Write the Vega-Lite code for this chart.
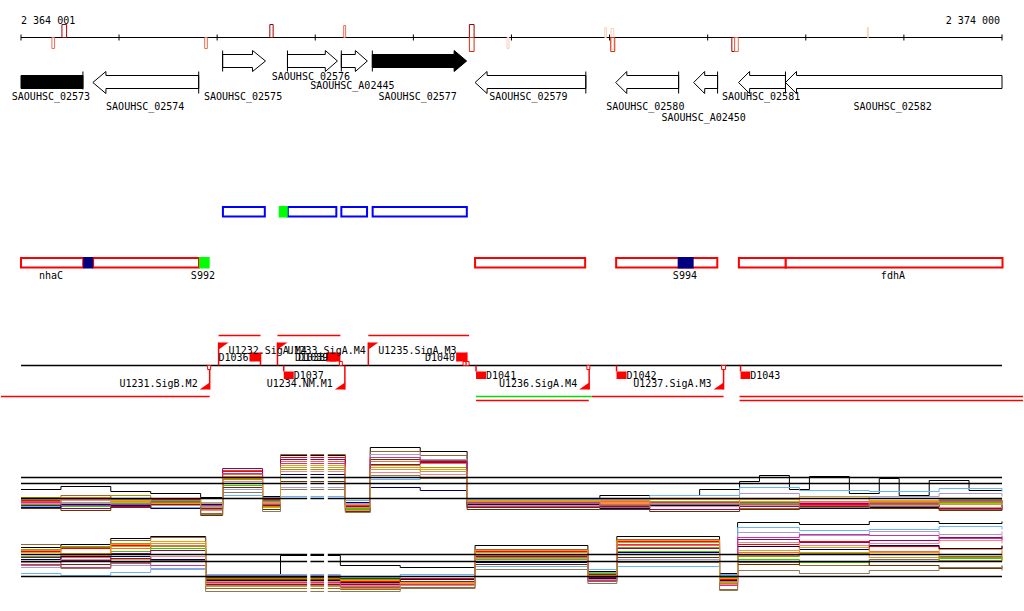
{
"$schema":"https://vega.github.io/schema/vega-lite/v6.json",
"width":1024,"height":611,
"autosize":{"type":"fit","contains":"padding"},
"padding":0,
"background":"#ffffff",
"config":{"view":{"stroke":null},"text":{"font":"DejaVu Sans Mono","fontSize":10,"color":"#000000"}},
"encoding":{
"x":{"field":"x","type":"quantitative","scale":{"domain":[2363797,2374214],"nice":false,"zero":false},"axis":null},
"y":{"field":"y","type":"quantitative","scale":{"domain":[611.5,0.5],"nice":false,"zero":false},"axis":null}
},
"datasets":{
"axis":[
{"x":2364001,"x2":2374000,"y":38,"y2":38},
{"x":2364001,"x2":2364001,"y":35,"y2":41},
{"x":2365000,"x2":2365000,"y":35,"y2":41},
{"x":2366000,"x2":2366000,"y":35,"y2":41},
{"x":2367000,"x2":2367000,"y":35,"y2":41},
{"x":2368000,"x2":2368000,"y":35,"y2":41},
{"x":2369000,"x2":2369000,"y":35,"y2":41},
{"x":2370000,"x2":2370000,"y":35,"y2":41},
{"x":2371000,"x2":2371000,"y":35,"y2":41},
{"x":2372000,"x2":2372000,"y":35,"y2":41},
{"x":2373000,"x2":2373000,"y":35,"y2":41},
{"x":2374000,"x2":2374000,"y":35,"y2":41}
],
"axislab":[
{"t":"2 364 001","x":2364001,"y":24,"side":"L"},
{"t":"2 374 000","x":2374000,"y":24,"side":"R"}
],
"hits":[
{"x":2364316,"x2":2364343,"y":38,"y2":49,"lvl":"mid"},
{"x":2364418,"x2":2364466,"y":25,"y2":38,"lvl":"high"},
{"x":2365873,"x2":2365900,"y":38,"y2":49,"lvl":"mid"},
{"x":2366537,"x2":2366571,"y":25,"y2":38,"lvl":"high"},
{"x":2367290,"x2":2367310,"y":26,"y2":38,"lvl":"mid"},
{"x":2368571,"x2":2368619,"y":25,"y2":38,"lvl":"high"},
{"x":2368571,"x2":2368619,"y":38,"y2":52,"lvl":"high2"},
{"x":2368955,"x2":2368975,"y":38,"y2":49,"lvl":"low"},
{"x":2369951,"x2":2369968,"y":28,"y2":38,"lvl":"low"},
{"x":2370016,"x2":2370043,"y":29,"y2":50,"lvl":"low"},
{"x":2370012,"x2":2370053,"y":38,"y2":52,"lvl":"high2"},
{"x":2371246,"x2":2371274,"y":38,"y2":52,"lvl":"high"},
{"x":2371274,"x2":2371312,"y":38,"y2":52,"lvl":"mid"},
{"x":2372627,"x2":2372637,"y":28,"y2":38,"lvl":"low"}
],
"arrows":[
{"g":"SAOUHSC_02573","x":2364001,"y":76,"y2":89},
{"g":"SAOUHSC_02573","x":2364632,"y":76,"y2":89},
{"g":"SAOUHSC_02574","x":2364733,"y":83,"y2":83},
{"g":"SAOUHSC_02574","x":2364866,"y":72,"y2":94},
{"g":"SAOUHSC_02574","x":2364867,"y":76,"y2":89},
{"g":"SAOUHSC_02574","x":2365812,"y":76,"y2":89},
{"g":"SAOUHSC_02575","x":2366056,"y":55,"y2":68},
{"g":"SAOUHSC_02575","x":2366360,"y":55,"y2":68},
{"g":"SAOUHSC_02575","x":2366361,"y":51,"y2":72},
{"g":"SAOUHSC_02575","x":2366493,"y":61.5,"y2":61.5},
{"g":"SAOUHSC_02576","x":2366717,"y":55,"y2":68},
{"g":"SAOUHSC_02576","x":2367102,"y":55,"y2":68},
{"g":"SAOUHSC_02576","x":2367103,"y":51,"y2":72},
{"g":"SAOUHSC_02576","x":2367226,"y":61.5,"y2":61.5},
{"g":"SAOUHSC_A02445","x":2367266,"y":55,"y2":68},
{"g":"SAOUHSC_A02445","x":2367408,"y":55,"y2":68},
{"g":"SAOUHSC_A02445","x":2367409,"y":51,"y2":72},
{"g":"SAOUHSC_A02445","x":2367531,"y":61.5,"y2":61.5},
{"g":"SAOUHSC_02577","x":2367582,"y":55,"y2":68},
{"g":"SAOUHSC_02577","x":2368415,"y":55,"y2":68},
{"g":"SAOUHSC_02577","x":2368416,"y":51,"y2":72},
{"g":"SAOUHSC_02577","x":2368543,"y":61.5,"y2":61.5},
{"g":"SAOUHSC_02579","x":2368629,"y":83,"y2":83},
{"g":"SAOUHSC_02579","x":2368751,"y":72,"y2":94},
{"g":"SAOUHSC_02579","x":2368752,"y":76,"y2":89},
{"g":"SAOUHSC_02579","x":2369758,"y":76,"y2":89},
{"g":"SAOUHSC_02580","x":2370063,"y":83,"y2":83},
{"g":"SAOUHSC_02580","x":2370175,"y":72,"y2":94},
{"g":"SAOUHSC_02580","x":2370176,"y":76,"y2":89},
{"g":"SAOUHSC_02580","x":2370704,"y":76,"y2":89},
{"g":"SAOUHSC_A02450","x":2370857,"y":83,"y2":83},
{"g":"SAOUHSC_A02450","x":2370969,"y":72,"y2":94},
{"g":"SAOUHSC_A02450","x":2370970,"y":76,"y2":89},
{"g":"SAOUHSC_A02450","x":2371101,"y":76,"y2":89},
{"g":"SAOUHSC_02581","x":2371315,"y":83,"y2":83},
{"g":"SAOUHSC_02581","x":2371427,"y":72,"y2":94},
{"g":"SAOUHSC_02581","x":2371428,"y":76,"y2":89},
{"g":"SAOUHSC_02581","x":2371793,"y":76,"y2":89},
{"g":"SAOUHSC_02582","x":2371793,"y":83,"y2":83},
{"g":"SAOUHSC_02582","x":2371905,"y":72,"y2":94},
{"g":"SAOUHSC_02582","x":2371906,"y":76,"y2":89},
{"g":"SAOUHSC_02582","x":2374000,"y":76,"y2":89}
],
"gbar":[
{"x":2366056,"x2":2366056,"y":51,"y2":72},
{"x":2366717,"x2":2366717,"y":51,"y2":72},
{"x":2367266,"x2":2367266,"y":51,"y2":72},
{"x":2367582,"x2":2367582,"y":51,"y2":72},
{"x":2364632,"x2":2364632,"y":72,"y2":90},
{"x":2365812,"x2":2365812,"y":72,"y2":94},
{"x":2369758,"x2":2369758,"y":72,"y2":94},
{"x":2370704,"x2":2370704,"y":72,"y2":94},
{"x":2371101,"x2":2371101,"y":72,"y2":94},
{"x":2371793,"x2":2371793,"y":72,"y2":94}
],
"glab":[
{"t":"SAOUHSC_02573","x":2364306,"y":100.5},
{"t":"SAOUHSC_02574","x":2365267,"y":110},
{"t":"SAOUHSC_02575","x":2366264,"y":100.5},
{"t":"SAOUHSC_02576","x":2366956,"y":80},
{"t":"SAOUHSC_A02445","x":2367378,"y":89},
{"t":"SAOUHSC_02577","x":2368044,"y":100.5},
{"t":"SAOUHSC_02579","x":2369173,"y":100.5},
{"t":"SAOUHSC_02580","x":2370364,"y":110},
{"t":"SAOUHSC_A02450","x":2370959,"y":121},
{"t":"SAOUHSC_02581","x":2371544,"y":100.5},
{"t":"SAOUHSC_02582","x":2372886,"y":110}
],
"boxes":[
{"x":2366059,"x2":2366486,"y":207.5,"y2":217,"k":"blue"},
{"x":2366720,"x2":2367215,"y":207.5,"y2":217,"k":"blue"},
{"x":2367266,"x2":2367528,"y":207.5,"y2":217,"k":"blue"},
{"x":2367585,"x2":2368545,"y":207.5,"y2":217,"k":"blue"},
{"x":2366628,"x2":2366720,"y":206.5,"y2":218,"k":"hi"},
{"x":2364001,"x2":2364635,"y":258.5,"y2":268,"k":"red"},
{"x":2364736,"x2":2365815,"y":258.5,"y2":268,"k":"red"},
{"x":2368629,"x2":2369751,"y":258.5,"y2":268,"k":"red"},
{"x":2370067,"x2":2371098,"y":258.5,"y2":268,"k":"red"},
{"x":2371318,"x2":2371796,"y":258.5,"y2":268,"k":"red"},
{"x":2371796,"x2":2374005,"y":258.5,"y2":268,"k":"red"},
{"x":2364635,"x2":2364736,"y":257.5,"y2":269,"k":"lo"},
{"x":2370694,"x2":2370857,"y":257.5,"y2":269,"k":"lo"},
{"x":2365815,"x2":2365924,"y":257.5,"y2":269,"k":"hi"}
],
"blab":[
{"t":"nhaC","x":2364306,"y":279},
{"t":"S992","x":2365855,"y":279},
{"t":"S994","x":2370768,"y":279},
{"t":"fdhA","x":2372888,"y":279}
],
"tuseg":[
{"x":2364001,"x2":2374000,"y":366,"y2":366,"k":"track"},
{"x":2366015,"x2":2366442,"y":336,"y2":336,"k":"red"},
{"x":2366615,"x2":2367256,"y":336,"y2":336,"k":"red"},
{"x":2367541,"x2":2368568,"y":336,"y2":336,"k":"red"},
{"x":2363797,"x2":2365924,"y":397,"y2":397,"k":"red"},
{"x":2368639,"x2":2369819,"y":397,"y2":397,"k":"green"},
{"x":2369819,"x2":2371162,"y":397,"y2":397,"k":"red"},
{"x":2371325,"x2":2374214,"y":397,"y2":397,"k":"red"},
{"x":2368639,"x2":2369788,"y":401,"y2":401,"k":"red"},
{"x":2371325,"x2":2374214,"y":401,"y2":401,"k":"red"},
{"x":2366015,"x2":2366015,"y":343,"y2":366,"k":"red"},
{"x":2366615,"x2":2366615,"y":343,"y2":366,"k":"red"},
{"x":2367541,"x2":2367541,"y":343,"y2":366,"k":"red"},
{"x":2365924,"x2":2365924,"y":366,"y2":390,"k":"red"},
{"x":2367302,"x2":2367302,"y":366,"y2":390,"k":"red"},
{"x":2369792,"x2":2369792,"y":366,"y2":390,"k":"red"},
{"x":2371162,"x2":2371162,"y":366,"y2":390,"k":"red"},
{"x":2366442,"x2":2366442,"y":353,"y2":366,"k":"red"},
{"x":2367249,"x2":2367249,"y":353,"y2":366,"k":"red"},
{"x":2368545,"x2":2368545,"y":353,"y2":366,"k":"red"},
{"x":2366679,"x2":2366679,"y":366,"y2":372,"k":"red"},
{"x":2368639,"x2":2368639,"y":366,"y2":372,"k":"red"},
{"x":2370071,"x2":2370071,"y":366,"y2":372,"k":"red"},
{"x":2371335,"x2":2371335,"y":366,"y2":372,"k":"red"}
],
"term":[
{"x":2365903,"x2":2365934,"y":366,"y2":370},
{"x":2367246,"x2":2367276,"y":362,"y2":366},
{"x":2368507,"x2":2368538,"y":362,"y2":366},
{"x":2368538,"x2":2368568,"y":362,"y2":366},
{"x":2369769,"x2":2369799,"y":366,"y2":370},
{"x":2371142,"x2":2371182,"y":366,"y2":370}
],
"flags":[
{"t":"U1232.SigA.M4","x":2366015,"y":366,"ly":354,"st":"+"},
{"t":"U1233.SigA.M4","x":2366615,"y":366,"ly":354,"st":"+"},
{"t":"U1235.SigA.M3","x":2367541,"y":366,"ly":354,"st":"+"},
{"t":"U1231.SigB.M2","x":2365924,"y":366,"ly":387,"st":"-"},
{"t":"U1234.NM.M1","x":2367302,"y":366,"ly":387,"st":"-"},
{"t":"U1236.SigA.M4","x":2369792,"y":366,"ly":387,"st":"-"},
{"t":"U1237.SigA.M3","x":2371162,"y":366,"ly":387,"st":"-"}
],
"dbox":[
{"d":"D1036","x":2366330,"x2":2366442,"y":353,"y2":362,"ly":361,"st":"+"},
{"d":"D1038","x":2367111,"x2":2367215,"y":353,"y2":362,"ly":361,"st":"+"},
{"d":"D1039","x":2367144,"x2":2367249,"y":353,"y2":362,"ly":361,"st":"+"},
{"d":"D1040","x":2368436,"x2":2368545,"y":353,"y2":362,"ly":361,"st":"+"},
{"d":"D1037","x":2366679,"x2":2366781,"y":372,"y2":379.5,"ly":379,"st":"-"},
{"d":"D1041","x":2368639,"x2":2368741,"y":372,"y2":379.5,"ly":379,"st":"-"},
{"d":"D1042","x":2370071,"x2":2370173,"y":372,"y2":379.5,"ly":379,"st":"-"},
{"d":"D1043","x":2371335,"x2":2371434,"y":372,"y2":379.5,"ly":379,"st":"-"}
],
"refs":[
{"x":2364001,"x2":2374000,"y":478,"y2":478},
{"x":2364001,"x2":2374000,"y":484,"y2":484},
{"x":2364001,"x2":2374000,"y":499,"y2":499},
{"x":2364001,"x2":2374000,"y":555,"y2":555},
{"x":2364001,"x2":2374000,"y":562,"y2":562},
{"x":2364001,"x2":2374000,"y":577,"y2":577}
],
"gaps":[
{"x":2366917,"x2":2366951,"y":440,"y2":520},
{"x":2367090,"x2":2367128,"y":440,"y2":520},
{"x":2366917,"x2":2366951,"y":520,"y2":600},
{"x":2367090,"x2":2367128,"y":520,"y2":600}
],
"expr":[
{"p":"u","s":"s01","x":2364001,"y":490},{"p":"u","s":"s01","x":2364916,"y":492},{"p":"u","s":"s01","x":2365832,"y":498},{"p":"u","s":"s01","x":2366056,"y":478},{"p":"u","s":"s01","x":2366463,"y":497},{"p":"u","s":"s01","x":2366646,"y":456},{"p":"u","s":"s01","x":2367307,"y":499},{"p":"u","s":"s01","x":2367561,"y":448},{"p":"u","s":"s01","x":2368070,"y":452},{"p":"u","s":"s01","x":2368548,"y":499},{"p":"u","s":"s01","x":2369901,"y":496},{"p":"u","s":"s01","x":2370918,"y":490},{"p":"u","s":"s01","x":2371325,"y":482},{"p":"u","s":"s01","x":2371528,"y":476},{"p":"u","s":"s01","x":2371833,"y":490},{"p":"u","s":"s01","x":2372037,"y":477},{"p":"u","s":"s01","x":2372444,"y":494},{"p":"u","s":"s01","x":2372749,"y":479},{"p":"u","s":"s01","x":2372952,"y":496},{"p":"u","s":"s01","x":2373258,"y":481},{"p":"u","s":"s01","x":2373664,"y":491},{"p":"u","s":"s01","x":2374000,"y":491},
{"p":"u","s":"s02","x":2364001,"y":501},{"p":"u","s":"s02","x":2364916,"y":503},{"p":"u","s":"s02","x":2365832,"y":505},{"p":"u","s":"s02","x":2366056,"y":472},{"p":"u","s":"s02","x":2366463,"y":500},{"p":"u","s":"s02","x":2366646,"y":458},{"p":"u","s":"s02","x":2367307,"y":505},{"p":"u","s":"s02","x":2367561,"y":458},{"p":"u","s":"s02","x":2368070,"y":460},{"p":"u","s":"s02","x":2368548,"y":503},{"p":"u","s":"s02","x":2369901,"y":504},{"p":"u","s":"s02","x":2371325,"y":503},{"p":"u","s":"s02","x":2372647,"y":502},{"p":"u","s":"s02","x":2374000,"y":502},
{"p":"u","s":"s03","x":2364001,"y":503},{"p":"u","s":"s03","x":2364916,"y":500},{"p":"u","s":"s03","x":2365832,"y":507},{"p":"u","s":"s03","x":2366056,"y":475},{"p":"u","s":"s03","x":2366463,"y":503},{"p":"u","s":"s03","x":2366646,"y":462},{"p":"u","s":"s03","x":2367307,"y":506},{"p":"u","s":"s03","x":2367561,"y":462},{"p":"u","s":"s03","x":2368070,"y":464},{"p":"u","s":"s03","x":2368548,"y":505},{"p":"u","s":"s03","x":2369901,"y":502},{"p":"u","s":"s03","x":2371325,"y":505},{"p":"u","s":"s03","x":2372647,"y":504},{"p":"u","s":"s03","x":2374000,"y":504},
{"p":"u","s":"s04","x":2364001,"y":499},{"p":"u","s":"s04","x":2364916,"y":502},{"p":"u","s":"s04","x":2365832,"y":514},{"p":"u","s":"s04","x":2366056,"y":471},{"p":"u","s":"s04","x":2366463,"y":505},{"p":"u","s":"s04","x":2366646,"y":455},{"p":"u","s":"s04","x":2367307,"y":508},{"p":"u","s":"s04","x":2367561,"y":452},{"p":"u","s":"s04","x":2368070,"y":456},{"p":"u","s":"s04","x":2368548,"y":507},{"p":"u","s":"s04","x":2369901,"y":506},{"p":"u","s":"s04","x":2371325,"y":509},{"p":"u","s":"s04","x":2372647,"y":507},{"p":"u","s":"s04","x":2374000,"y":507},
{"p":"u","s":"s05","x":2364001,"y":498},{"p":"u","s":"s05","x":2364916,"y":496},{"p":"u","s":"s05","x":2365832,"y":510},{"p":"u","s":"s05","x":2366056,"y":480},{"p":"u","s":"s05","x":2366463,"y":507},{"p":"u","s":"s05","x":2366646,"y":470},{"p":"u","s":"s05","x":2367307,"y":509},{"p":"u","s":"s05","x":2367561,"y":466},{"p":"u","s":"s05","x":2368070,"y":468},{"p":"u","s":"s05","x":2368548,"y":502},{"p":"u","s":"s05","x":2369901,"y":505},{"p":"u","s":"s05","x":2371325,"y":500},{"p":"u","s":"s05","x":2372647,"y":503},{"p":"u","s":"s05","x":2374000,"y":503},
{"p":"u","s":"s06","x":2364001,"y":505},{"p":"u","s":"s06","x":2364916,"y":504},{"p":"u","s":"s06","x":2365832,"y":506},{"p":"u","s":"s06","x":2366056,"y":486},{"p":"u","s":"s06","x":2366463,"y":502},{"p":"u","s":"s06","x":2366646,"y":478},{"p":"u","s":"s06","x":2367307,"y":510},{"p":"u","s":"s06","x":2367561,"y":470},{"p":"u","s":"s06","x":2368070,"y":472},{"p":"u","s":"s06","x":2368548,"y":506},{"p":"u","s":"s06","x":2369901,"y":508},{"p":"u","s":"s06","x":2371325,"y":504},{"p":"u","s":"s06","x":2372647,"y":505},{"p":"u","s":"s06","x":2374000,"y":505},
{"p":"u","s":"s07","x":2364001,"y":507},{"p":"u","s":"s07","x":2364916,"y":505},{"p":"u","s":"s07","x":2365832,"y":503},{"p":"u","s":"s07","x":2366056,"y":496},{"p":"u","s":"s07","x":2366463,"y":498},{"p":"u","s":"s07","x":2366646,"y":497},{"p":"u","s":"s07","x":2367307,"y":501},{"p":"u","s":"s07","x":2367561,"y":480},{"p":"u","s":"s07","x":2368070,"y":478},{"p":"u","s":"s07","x":2368548,"y":500},{"p":"u","s":"s07","x":2369901,"y":499},{"p":"u","s":"s07","x":2371325,"y":488},{"p":"u","s":"s07","x":2372647,"y":492},{"p":"u","s":"s07","x":2374000,"y":492},
{"p":"u","s":"s08","x":2364001,"y":502},{"p":"u","s":"s08","x":2364916,"y":506},{"p":"u","s":"s08","x":2365832,"y":508},{"p":"u","s":"s08","x":2366056,"y":490},{"p":"u","s":"s08","x":2366463,"y":504},{"p":"u","s":"s08","x":2366646,"y":488},{"p":"u","s":"s08","x":2367307,"y":504},{"p":"u","s":"s08","x":2367561,"y":455},{"p":"u","s":"s08","x":2368070,"y":460},{"p":"u","s":"s08","x":2368548,"y":504},{"p":"u","s":"s08","x":2369901,"y":500},{"p":"u","s":"s08","x":2371325,"y":494},{"p":"u","s":"s08","x":2372647,"y":497},{"p":"u","s":"s08","x":2374000,"y":497},
{"p":"u","s":"s09","x":2364001,"y":506},{"p":"u","s":"s09","x":2364916,"y":507},{"p":"u","s":"s09","x":2365832,"y":509},{"p":"u","s":"s09","x":2366056,"y":469},{"p":"u","s":"s09","x":2366463,"y":506},{"p":"u","s":"s09","x":2366646,"y":460},{"p":"u","s":"s09","x":2367307,"y":507},{"p":"u","s":"s09","x":2367561,"y":465},{"p":"u","s":"s09","x":2368070,"y":463},{"p":"u","s":"s09","x":2368548,"y":508},{"p":"u","s":"s09","x":2369901,"y":507},{"p":"u","s":"s09","x":2371325,"y":507},{"p":"u","s":"s09","x":2372647,"y":506},{"p":"u","s":"s09","x":2374000,"y":506},
{"p":"u","s":"s10","x":2364001,"y":508},{"p":"u","s":"s10","x":2364916,"y":506},{"p":"u","s":"s10","x":2365832,"y":505},{"p":"u","s":"s10","x":2366056,"y":484},{"p":"u","s":"s10","x":2366463,"y":499},{"p":"u","s":"s10","x":2366646,"y":475},{"p":"u","s":"s10","x":2367307,"y":503},{"p":"u","s":"s10","x":2367561,"y":488},{"p":"u","s":"s10","x":2368070,"y":491},{"p":"u","s":"s10","x":2368548,"y":505},{"p":"u","s":"s10","x":2369901,"y":509},{"p":"u","s":"s10","x":2371325,"y":506},{"p":"u","s":"s10","x":2372647,"y":508},{"p":"u","s":"s10","x":2374000,"y":508},
{"p":"u","s":"s11","x":2364001,"y":500},{"p":"u","s":"s11","x":2364916,"y":501},{"p":"u","s":"s11","x":2365832,"y":504},{"p":"u","s":"s11","x":2366056,"y":477},{"p":"u","s":"s11","x":2366463,"y":508},{"p":"u","s":"s11","x":2366646,"y":466},{"p":"u","s":"s11","x":2367307,"y":505},{"p":"u","s":"s11","x":2367561,"y":468},{"p":"u","s":"s11","x":2368070,"y":470},{"p":"u","s":"s11","x":2368548,"y":501},{"p":"u","s":"s11","x":2369901,"y":503},{"p":"u","s":"s11","x":2371325,"y":502},{"p":"u","s":"s11","x":2372647,"y":501},{"p":"u","s":"s11","x":2374000,"y":501},
{"p":"u","s":"s12","x":2364001,"y":504},{"p":"u","s":"s12","x":2364916,"y":503},{"p":"u","s":"s12","x":2365832,"y":511},{"p":"u","s":"s12","x":2366056,"y":482},{"p":"u","s":"s12","x":2366463,"y":503},{"p":"u","s":"s12","x":2366646,"y":472},{"p":"u","s":"s12","x":2367307,"y":511},{"p":"u","s":"s12","x":2367561,"y":473},{"p":"u","s":"s12","x":2368070,"y":475},{"p":"u","s":"s12","x":2368548,"y":506},{"p":"u","s":"s12","x":2369901,"y":504},{"p":"u","s":"s12","x":2371325,"y":506},{"p":"u","s":"s12","x":2372647,"y":506},{"p":"u","s":"s12","x":2374000,"y":506},
{"p":"u","s":"s13","x":2364001,"y":509},{"p":"u","s":"s13","x":2364916,"y":508},{"p":"u","s":"s13","x":2365832,"y":516},{"p":"u","s":"s13","x":2366056,"y":488},{"p":"u","s":"s13","x":2366463,"y":510},{"p":"u","s":"s13","x":2366646,"y":482},{"p":"u","s":"s13","x":2367307,"y":512},{"p":"u","s":"s13","x":2367561,"y":460},{"p":"u","s":"s13","x":2368070,"y":462},{"p":"u","s":"s13","x":2368548,"y":510},{"p":"u","s":"s13","x":2369901,"y":510},{"p":"u","s":"s13","x":2371325,"y":510},{"p":"u","s":"s13","x":2372647,"y":509},{"p":"u","s":"s13","x":2374000,"y":509},
{"p":"u","s":"s14","x":2364001,"y":503},{"p":"u","s":"s14","x":2364916,"y":505},{"p":"u","s":"s14","x":2365832,"y":506},{"p":"u","s":"s14","x":2366056,"y":474},{"p":"u","s":"s14","x":2366463,"y":501},{"p":"u","s":"s14","x":2366646,"y":464},{"p":"u","s":"s14","x":2367307,"y":506},{"p":"u","s":"s14","x":2367561,"y":458},{"p":"u","s":"s14","x":2368070,"y":461},{"p":"u","s":"s14","x":2368548,"y":503},{"p":"u","s":"s14","x":2369901,"y":506},{"p":"u","s":"s14","x":2371325,"y":503},{"p":"u","s":"s14","x":2372647,"y":504},{"p":"u","s":"s14","x":2374000,"y":504},
{"p":"u","s":"s15","x":2364001,"y":502},{"p":"u","s":"s15","x":2364916,"y":500},{"p":"u","s":"s15","x":2365832,"y":515},{"p":"u","s":"s15","x":2366056,"y":493},{"p":"u","s":"s15","x":2366463,"y":512},{"p":"u","s":"s15","x":2366646,"y":490},{"p":"u","s":"s15","x":2367307,"y":513},{"p":"u","s":"s15","x":2367561,"y":476},{"p":"u","s":"s15","x":2368070,"y":479},{"p":"u","s":"s15","x":2368548,"y":504},{"p":"u","s":"s15","x":2369901,"y":508},{"p":"u","s":"s15","x":2371325,"y":505},{"p":"u","s":"s15","x":2372647,"y":505},{"p":"u","s":"s15","x":2374000,"y":505},
{"p":"u","s":"s16","x":2364001,"y":500},{"p":"u","s":"s16","x":2364916,"y":502},{"p":"u","s":"s16","x":2365832,"y":507},{"p":"u","s":"s16","x":2366056,"y":479},{"p":"u","s":"s16","x":2366463,"y":504},{"p":"u","s":"s16","x":2366646,"y":468},{"p":"u","s":"s16","x":2367307,"y":508},{"p":"u","s":"s16","x":2367561,"y":470},{"p":"u","s":"s16","x":2368070,"y":472},{"p":"u","s":"s16","x":2368548,"y":502},{"p":"u","s":"s16","x":2369901,"y":501},{"p":"u","s":"s16","x":2371325,"y":500},{"p":"u","s":"s16","x":2372647,"y":502},{"p":"u","s":"s16","x":2374000,"y":502},
{"p":"u","s":"s01","x":2364408,"y":487},{"p":"u","s":"s01","x":2365323,"y":494},
{"p":"u","s":"s02","x":2364408,"y":503},{"p":"u","s":"s02","x":2365323,"y":500},{"p":"u","s":"s02","x":2370409,"y":502},{"p":"u","s":"s02","x":2371935,"y":505},{"p":"u","s":"s02","x":2373359,"y":504},
{"p":"u","s":"s03","x":2364408,"y":500},{"p":"u","s":"s03","x":2365323,"y":503},{"p":"u","s":"s03","x":2370409,"y":505},{"p":"u","s":"s03","x":2371935,"y":502},{"p":"u","s":"s03","x":2373359,"y":501},
{"p":"u","s":"s04","x":2364408,"y":496},{"p":"u","s":"s04","x":2365323,"y":505},{"p":"u","s":"s04","x":2370409,"y":503},{"p":"u","s":"s04","x":2371935,"y":506},{"p":"u","s":"s04","x":2373359,"y":510},
{"p":"u","s":"s05","x":2364408,"y":501},{"p":"u","s":"s05","x":2365323,"y":499},{"p":"u","s":"s05","x":2370409,"y":502},{"p":"u","s":"s05","x":2371935,"y":503},{"p":"u","s":"s05","x":2373359,"y":500},
{"p":"u","s":"s06","x":2364408,"y":507},{"p":"u","s":"s06","x":2365323,"y":501},{"p":"u","s":"s06","x":2370409,"y":505},{"p":"u","s":"s06","x":2371935,"y":507},{"p":"u","s":"s06","x":2373359,"y":503},
{"p":"u","s":"s07","x":2364408,"y":504},{"p":"u","s":"s07","x":2365323,"y":508},{"p":"u","s":"s07","x":2370409,"y":496},{"p":"u","s":"s07","x":2371935,"y":491},{"p":"u","s":"s07","x":2373359,"y":489},
{"p":"u","s":"s08","x":2364408,"y":505},{"p":"u","s":"s08","x":2365323,"y":503},{"p":"u","s":"s08","x":2370409,"y":503},{"p":"u","s":"s08","x":2371935,"y":497},{"p":"u","s":"s08","x":2373359,"y":494},
{"p":"u","s":"s09","x":2364408,"y":509},{"p":"u","s":"s09","x":2365323,"y":504},{"p":"u","s":"s09","x":2370409,"y":510},{"p":"u","s":"s09","x":2371935,"y":504},{"p":"u","s":"s09","x":2373359,"y":509},
{"p":"u","s":"s10","x":2364408,"y":505},{"p":"u","s":"s10","x":2365323,"y":509},{"p":"u","s":"s10","x":2370409,"y":506},{"p":"u","s":"s10","x":2371935,"y":509},{"p":"u","s":"s10","x":2373359,"y":505},
{"p":"u","s":"s11","x":2364408,"y":498},{"p":"u","s":"s11","x":2365323,"y":504},{"p":"u","s":"s11","x":2370409,"y":500},{"p":"u","s":"s11","x":2371935,"y":499},{"p":"u","s":"s11","x":2373359,"y":504},
{"p":"u","s":"s12","x":2364408,"y":501},{"p":"u","s":"s12","x":2365323,"y":506},{"p":"u","s":"s12","x":2370409,"y":507},{"p":"u","s":"s12","x":2371935,"y":503},{"p":"u","s":"s12","x":2373359,"y":508},
{"p":"u","s":"s13","x":2364408,"y":511},{"p":"u","s":"s13","x":2365323,"y":505},{"p":"u","s":"s13","x":2370409,"y":512},{"p":"u","s":"s13","x":2371935,"y":507},{"p":"u","s":"s13","x":2373359,"y":511},
{"p":"u","s":"s14","x":2364408,"y":506},{"p":"u","s":"s14","x":2365323,"y":502},{"p":"u","s":"s14","x":2370409,"y":503},{"p":"u","s":"s14","x":2371935,"y":506},{"p":"u","s":"s14","x":2373359,"y":501},
{"p":"u","s":"s15","x":2364408,"y":499},{"p":"u","s":"s15","x":2365323,"y":503},{"p":"u","s":"s15","x":2370409,"y":505},{"p":"u","s":"s15","x":2371935,"y":508},{"p":"u","s":"s15","x":2373359,"y":502},
{"p":"u","s":"s16","x":2364408,"y":503},{"p":"u","s":"s16","x":2365323,"y":499},{"p":"u","s":"s16","x":2370409,"y":504},{"p":"u","s":"s16","x":2371935,"y":497},{"p":"u","s":"s16","x":2373359,"y":505},
{"p":"l","s":"s01","x":2364001,"y":548},{"p":"l","s":"s01","x":2364916,"y":539},{"p":"l","s":"s01","x":2365883,"y":578},{"p":"l","s":"s01","x":2366646,"y":556},{"p":"l","s":"s01","x":2367256,"y":566},{"p":"l","s":"s01","x":2368629,"y":546},{"p":"l","s":"s01","x":2369779,"y":572},{"p":"l","s":"s01","x":2370074,"y":537},{"p":"l","s":"s01","x":2371121,"y":574},{"p":"l","s":"s01","x":2371305,"y":523},{"p":"l","s":"s01","x":2372647,"y":522},{"p":"l","s":"s01","x":2374000,"y":522},
{"p":"l","s":"s02","x":2364001,"y":552},{"p":"l","s":"s02","x":2364916,"y":546},{"p":"l","s":"s02","x":2365883,"y":580},{"p":"l","s":"s02","x":2367256,"y":582},{"p":"l","s":"s02","x":2368629,"y":552},{"p":"l","s":"s02","x":2369779,"y":575},{"p":"l","s":"s02","x":2370074,"y":542},{"p":"l","s":"s02","x":2371121,"y":580},{"p":"l","s":"s02","x":2371305,"y":545},{"p":"l","s":"s02","x":2372647,"y":547},{"p":"l","s":"s02","x":2374000,"y":547},
{"p":"l","s":"s03","x":2364001,"y":555},{"p":"l","s":"s03","x":2364916,"y":549},{"p":"l","s":"s03","x":2365883,"y":583},{"p":"l","s":"s03","x":2367256,"y":584},{"p":"l","s":"s03","x":2368629,"y":556},{"p":"l","s":"s03","x":2369779,"y":577},{"p":"l","s":"s03","x":2370074,"y":546},{"p":"l","s":"s03","x":2371121,"y":582},{"p":"l","s":"s03","x":2371305,"y":553},{"p":"l","s":"s03","x":2372647,"y":552},{"p":"l","s":"s03","x":2374000,"y":552},
{"p":"l","s":"s04","x":2364001,"y":545},{"p":"l","s":"s04","x":2364916,"y":541},{"p":"l","s":"s04","x":2365883,"y":589},{"p":"l","s":"s04","x":2367256,"y":590},{"p":"l","s":"s04","x":2368629,"y":550},{"p":"l","s":"s04","x":2369779,"y":582},{"p":"l","s":"s04","x":2370074,"y":540},{"p":"l","s":"s04","x":2371121,"y":590},{"p":"l","s":"s04","x":2371305,"y":563},{"p":"l","s":"s04","x":2372647,"y":560},{"p":"l","s":"s04","x":2374000,"y":560},
{"p":"l","s":"s05","x":2364001,"y":550},{"p":"l","s":"s05","x":2364916,"y":544},{"p":"l","s":"s05","x":2365883,"y":586},{"p":"l","s":"s05","x":2367256,"y":587},{"p":"l","s":"s05","x":2368629,"y":558},{"p":"l","s":"s05","x":2369779,"y":576},{"p":"l","s":"s05","x":2370074,"y":548},{"p":"l","s":"s05","x":2371121,"y":584},{"p":"l","s":"s05","x":2371305,"y":557},{"p":"l","s":"s05","x":2372647,"y":555},{"p":"l","s":"s05","x":2374000,"y":555},
{"p":"l","s":"s06","x":2364001,"y":557},{"p":"l","s":"s06","x":2364916,"y":552},{"p":"l","s":"s06","x":2365883,"y":579},{"p":"l","s":"s06","x":2367256,"y":580},{"p":"l","s":"s06","x":2368629,"y":560},{"p":"l","s":"s06","x":2369779,"y":574},{"p":"l","s":"s06","x":2370074,"y":552},{"p":"l","s":"s06","x":2371121,"y":578},{"p":"l","s":"s06","x":2371305,"y":560},{"p":"l","s":"s06","x":2372647,"y":562},{"p":"l","s":"s06","x":2374000,"y":562},
{"p":"l","s":"s07","x":2364001,"y":574},{"p":"l","s":"s07","x":2364916,"y":573},{"p":"l","s":"s07","x":2365883,"y":576},{"p":"l","s":"s07","x":2367256,"y":578},{"p":"l","s":"s07","x":2368629,"y":567},{"p":"l","s":"s07","x":2369779,"y":570},{"p":"l","s":"s07","x":2370074,"y":567},{"p":"l","s":"s07","x":2371121,"y":575},{"p":"l","s":"s07","x":2371305,"y":528},{"p":"l","s":"s07","x":2372647,"y":530},{"p":"l","s":"s07","x":2374000,"y":530},
{"p":"l","s":"s08","x":2364001,"y":568},{"p":"l","s":"s08","x":2364916,"y":566},{"p":"l","s":"s08","x":2365883,"y":575},{"p":"l","s":"s08","x":2367256,"y":577},{"p":"l","s":"s08","x":2368629,"y":562},{"p":"l","s":"s08","x":2369779,"y":573},{"p":"l","s":"s08","x":2370074,"y":560},{"p":"l","s":"s08","x":2371121,"y":576},{"p":"l","s":"s08","x":2371305,"y":533},{"p":"l","s":"s08","x":2372647,"y":532},{"p":"l","s":"s08","x":2374000,"y":532},
{"p":"l","s":"s09","x":2364001,"y":558},{"p":"l","s":"s09","x":2364916,"y":554},{"p":"l","s":"s09","x":2365883,"y":585},{"p":"l","s":"s09","x":2367256,"y":585},{"p":"l","s":"s09","x":2368629,"y":557},{"p":"l","s":"s09","x":2369779,"y":578},{"p":"l","s":"s09","x":2370074,"y":549},{"p":"l","s":"s09","x":2371121,"y":583},{"p":"l","s":"s09","x":2371305,"y":540},{"p":"l","s":"s09","x":2372647,"y":541},{"p":"l","s":"s09","x":2374000,"y":541},
{"p":"l","s":"s10","x":2364001,"y":560},{"p":"l","s":"s10","x":2364916,"y":557},{"p":"l","s":"s10","x":2365883,"y":581},{"p":"l","s":"s10","x":2367256,"y":583},{"p":"l","s":"s10","x":2368629,"y":563},{"p":"l","s":"s10","x":2369779,"y":579},{"p":"l","s":"s10","x":2370074,"y":553},{"p":"l","s":"s10","x":2371121,"y":581},{"p":"l","s":"s10","x":2371305,"y":547},{"p":"l","s":"s10","x":2372647,"y":546},{"p":"l","s":"s10","x":2374000,"y":546},
{"p":"l","s":"s11","x":2364001,"y":553},{"p":"l","s":"s11","x":2364916,"y":545},{"p":"l","s":"s11","x":2365883,"y":582},{"p":"l","s":"s11","x":2367256,"y":581},{"p":"l","s":"s11","x":2368629,"y":551},{"p":"l","s":"s11","x":2369779,"y":576},{"p":"l","s":"s11","x":2370074,"y":541},{"p":"l","s":"s11","x":2371121,"y":579},{"p":"l","s":"s11","x":2371305,"y":551},{"p":"l","s":"s11","x":2372647,"y":553},{"p":"l","s":"s11","x":2374000,"y":553},
{"p":"l","s":"s12","x":2364001,"y":563},{"p":"l","s":"s12","x":2364916,"y":560},{"p":"l","s":"s12","x":2365883,"y":584},{"p":"l","s":"s12","x":2367256,"y":586},{"p":"l","s":"s12","x":2368629,"y":559},{"p":"l","s":"s12","x":2369779,"y":580},{"p":"l","s":"s12","x":2370074,"y":555},{"p":"l","s":"s12","x":2371121,"y":585},{"p":"l","s":"s12","x":2371305,"y":543},{"p":"l","s":"s12","x":2372647,"y":544},{"p":"l","s":"s12","x":2374000,"y":544},
{"p":"l","s":"s13","x":2364001,"y":562},{"p":"l","s":"s13","x":2364916,"y":559},{"p":"l","s":"s13","x":2365883,"y":578},{"p":"l","s":"s13","x":2367256,"y":579},{"p":"l","s":"s13","x":2368629,"y":565},{"p":"l","s":"s13","x":2369779,"y":575},{"p":"l","s":"s13","x":2370074,"y":558},{"p":"l","s":"s13","x":2371121,"y":577},{"p":"l","s":"s13","x":2371305,"y":565},{"p":"l","s":"s13","x":2372647,"y":566},{"p":"l","s":"s13","x":2374000,"y":566},
{"p":"l","s":"s14","x":2364001,"y":565},{"p":"l","s":"s14","x":2364916,"y":563},{"p":"l","s":"s14","x":2365883,"y":583},{"p":"l","s":"s14","x":2367256,"y":588},{"p":"l","s":"s14","x":2368629,"y":555},{"p":"l","s":"s14","x":2369779,"y":581},{"p":"l","s":"s14","x":2370074,"y":545},{"p":"l","s":"s14","x":2371121,"y":586},{"p":"l","s":"s14","x":2371305,"y":538},{"p":"l","s":"s14","x":2372647,"y":536},{"p":"l","s":"s14","x":2374000,"y":536},
{"p":"l","s":"s15","x":2364001,"y":566},{"p":"l","s":"s15","x":2364916,"y":564},{"p":"l","s":"s15","x":2365883,"y":592},{"p":"l","s":"s15","x":2367256,"y":592},{"p":"l","s":"s15","x":2368629,"y":570},{"p":"l","s":"s15","x":2369779,"y":584},{"p":"l","s":"s15","x":2370074,"y":563},{"p":"l","s":"s15","x":2371121,"y":591},{"p":"l","s":"s15","x":2371305,"y":571},{"p":"l","s":"s15","x":2372647,"y":571},{"p":"l","s":"s15","x":2374000,"y":571},
{"p":"l","s":"s16","x":2364001,"y":551},{"p":"l","s":"s16","x":2364916,"y":547},{"p":"l","s":"s16","x":2365883,"y":587},{"p":"l","s":"s16","x":2367256,"y":589},{"p":"l","s":"s16","x":2368629,"y":553},{"p":"l","s":"s16","x":2369779,"y":577},{"p":"l","s":"s16","x":2370074,"y":543},{"p":"l","s":"s16","x":2371121,"y":583},{"p":"l","s":"s16","x":2371305,"y":556},{"p":"l","s":"s16","x":2372647,"y":558},{"p":"l","s":"s16","x":2374000,"y":558},
{"p":"l","s":"s01","x":2364408,"y":545},{"p":"l","s":"s01","x":2365323,"y":537},{"p":"l","s":"s01","x":2367866,"y":568},{"p":"l","s":"s01","x":2371935,"y":525},{"p":"l","s":"s01","x":2373359,"y":524},
{"p":"l","s":"s02","x":2364408,"y":549},{"p":"l","s":"s02","x":2365323,"y":549},{"p":"l","s":"s02","x":2367866,"y":579},{"p":"l","s":"s02","x":2371935,"y":542},{"p":"l","s":"s02","x":2373359,"y":550},
{"p":"l","s":"s03","x":2364408,"y":558},{"p":"l","s":"s03","x":2365323,"y":546},{"p":"l","s":"s03","x":2367866,"y":586},{"p":"l","s":"s03","x":2371935,"y":550},{"p":"l","s":"s03","x":2373359,"y":555},
{"p":"l","s":"s04","x":2364408,"y":548},{"p":"l","s":"s04","x":2365323,"y":538},{"p":"l","s":"s04","x":2367866,"y":588},{"p":"l","s":"s04","x":2371935,"y":566},{"p":"l","s":"s04","x":2373359,"y":557},
{"p":"l","s":"s05","x":2364408,"y":547},{"p":"l","s":"s05","x":2365323,"y":547},{"p":"l","s":"s05","x":2367866,"y":584},{"p":"l","s":"s05","x":2371935,"y":554},{"p":"l","s":"s05","x":2373359,"y":558},
{"p":"l","s":"s06","x":2364408,"y":554},{"p":"l","s":"s06","x":2365323,"y":549},{"p":"l","s":"s06","x":2367866,"y":583},{"p":"l","s":"s06","x":2371935,"y":563},{"p":"l","s":"s06","x":2373359,"y":559},
{"p":"l","s":"s07","x":2364408,"y":576},{"p":"l","s":"s07","x":2365323,"y":570},{"p":"l","s":"s07","x":2367866,"y":575},{"p":"l","s":"s07","x":2371935,"y":531},{"p":"l","s":"s07","x":2373359,"y":527},
{"p":"l","s":"s08","x":2364408,"y":565},{"p":"l","s":"s08","x":2365323,"y":569},{"p":"l","s":"s08","x":2367866,"y":580},{"p":"l","s":"s08","x":2371935,"y":536},{"p":"l","s":"s08","x":2373359,"y":535},
{"p":"l","s":"s09","x":2364408,"y":561},{"p":"l","s":"s09","x":2365323,"y":551},{"p":"l","s":"s09","x":2367866,"y":582},{"p":"l","s":"s09","x":2371935,"y":543},{"p":"l","s":"s09","x":2373359,"y":538},
{"p":"l","s":"s10","x":2364408,"y":557},{"p":"l","s":"s10","x":2365323,"y":560},{"p":"l","s":"s10","x":2367866,"y":580},{"p":"l","s":"s10","x":2371935,"y":550},{"p":"l","s":"s10","x":2373359,"y":549},
{"p":"l","s":"s11","x":2364408,"y":556},{"p":"l","s":"s11","x":2365323,"y":542},{"p":"l","s":"s11","x":2367866,"y":584},{"p":"l","s":"s11","x":2371935,"y":548},{"p":"l","s":"s11","x":2373359,"y":550},
{"p":"l","s":"s12","x":2364408,"y":560},{"p":"l","s":"s12","x":2365323,"y":557},{"p":"l","s":"s12","x":2367866,"y":583},{"p":"l","s":"s12","x":2371935,"y":546},{"p":"l","s":"s12","x":2373359,"y":541},
{"p":"l","s":"s13","x":2364408,"y":565},{"p":"l","s":"s13","x":2365323,"y":562},{"p":"l","s":"s13","x":2367866,"y":582},{"p":"l","s":"s13","x":2371935,"y":562},{"p":"l","s":"s13","x":2373359,"y":569},
{"p":"l","s":"s14","x":2364408,"y":568},{"p":"l","s":"s14","x":2365323,"y":566},{"p":"l","s":"s14","x":2367866,"y":585},{"p":"l","s":"s14","x":2371935,"y":535},{"p":"l","s":"s14","x":2373359,"y":539},
{"p":"l","s":"s15","x":2364408,"y":569},{"p":"l","s":"s15","x":2365323,"y":561},{"p":"l","s":"s15","x":2367866,"y":589},{"p":"l","s":"s15","x":2371935,"y":574},{"p":"l","s":"s15","x":2373359,"y":568},
{"p":"l","s":"s16","x":2364408,"y":554},{"p":"l","s":"s16","x":2365323,"y":544},{"p":"l","s":"s16","x":2367866,"y":586},{"p":"l","s":"s16","x":2371935,"y":553},{"p":"l","s":"s16","x":2373359,"y":561}
]
},
"layer":[
{"data":{"name":"expr"},"mark":{"type":"line","interpolate":"step-after","strokeWidth":1},
 "encoding":{"color":{"field":"s","type":"nominal","legend":null,"scale":{"domain":["s01","s02","s03","s04","s05","s06","s07","s08","s09","s10","s11","s12","s13","s14","s15","s16"],"range":["#000000","#ff0000","#ff6633","#996633","#999900","#33cc00","#66b3ff","#aa99cc","#990066","#000066","#ff9900","#ff8080","#663300","#cc3399","#8c7853","#cc9933"]}},"detail":{"field":"p"}}},
{"data":{"name":"refs"},"mark":{"type":"rule","color":"#000000","strokeWidth":1.5},"encoding":{"x2":{"field":"x2"},"y2":{"field":"y2"}}},
{"data":{"name":"gaps"},"mark":{"type":"rect","fill":"#ffffff","strokeWidth":0},"encoding":{"x2":{"field":"x2"},"y2":{"field":"y2"}}},
{"data":{"name":"axis"},"mark":{"type":"rule","color":"#000000","strokeWidth":1},"encoding":{"x2":{"field":"x2"},"y2":{"field":"y2"}}},
{"data":{"name":"hits"},"mark":{"type":"rect","filled":false,"strokeWidth":1},"encoding":{"x2":{"field":"x2"},"y2":{"field":"y2"},"stroke":{"field":"lvl","type":"nominal","legend":null,"scale":{"domain":["high","high2","mid","low"],"range":["#a00000","#d42a10","#f06a50","#f8cfc0"]}}}},
{"data":{"name":"axislab"},"transform":[{"filter":"datum.side==='L'"}],"mark":{"type":"text","align":"left","baseline":"alphabetic"},"encoding":{"text":{"field":"t"}}},
{"data":{"name":"axislab"},"transform":[{"filter":"datum.side==='R'"}],"mark":{"type":"text","align":"right","baseline":"alphabetic","dx":-2},"encoding":{"text":{"field":"t"}}},
{"data":{"name":"arrows"},"transform":[{"filter":"datum.g!=='SAOUHSC_02573'&&datum.g!=='SAOUHSC_02577'"}],"mark":{"type":"area","stroke":"#000000","strokeWidth":1,"fill":"#ffffff","opacity":1,"interpolate":"linear","orient":"vertical"},
 "encoding":{"y2":{"field":"y2"},"detail":{"field":"g"}}},
{"data":{"name":"arrows"},"transform":[{"filter":"datum.g==='SAOUHSC_02573'||datum.g==='SAOUHSC_02577'"}],"mark":{"type":"area","stroke":"#000000","strokeWidth":1,"fill":"#000000","opacity":1,"interpolate":"linear","orient":"vertical"},
 "encoding":{"y2":{"field":"y2"},"detail":{"field":"g"}}},
{"data":{"name":"gbar"},"mark":{"type":"rule","color":"#000000","strokeWidth":1},"encoding":{"x2":{"field":"x2"},"y2":{"field":"y2"}}},
{"data":{"name":"glab"},"mark":{"type":"text","align":"center","baseline":"alphabetic"},"encoding":{"text":{"field":"t"}}},
{"data":{"name":"boxes"},"transform":[{"filter":"datum.k==='blue'"}],"mark":{"type":"rect","fill":"#ffffff","stroke":"#0000ff","strokeWidth":2},"encoding":{"x2":{"field":"x2"},"y2":{"field":"y2"}}},
{"data":{"name":"boxes"},"transform":[{"filter":"datum.k==='red'"}],"mark":{"type":"rect","fill":"#ffffff","stroke":"#ff0000","strokeWidth":2},"encoding":{"x2":{"field":"x2"},"y2":{"field":"y2"}}},
{"data":{"name":"boxes"},"transform":[{"filter":"datum.k==='hi'"}],"mark":{"type":"rect","fill":"#00ff00","strokeWidth":0},"encoding":{"x2":{"field":"x2"},"y2":{"field":"y2"}}},
{"data":{"name":"boxes"},"transform":[{"filter":"datum.k==='lo'"}],"mark":{"type":"rect","fill":"#000080","strokeWidth":0},"encoding":{"x2":{"field":"x2"},"y2":{"field":"y2"}}},
{"data":{"name":"blab"},"mark":{"type":"text","align":"center","baseline":"alphabetic"},"encoding":{"text":{"field":"t"}}},
{"data":{"name":"tuseg"},"transform":[{"filter":"datum.k==='track'"}],"mark":{"type":"rule","color":"#000000","strokeWidth":1.5},"encoding":{"x2":{"field":"x2"},"y2":{"field":"y2"}}},
{"data":{"name":"tuseg"},"transform":[{"filter":"datum.k==='red'"}],"mark":{"type":"rule","color":"#ff0000","strokeWidth":1.5},"encoding":{"x2":{"field":"x2"},"y2":{"field":"y2"}}},
{"data":{"name":"tuseg"},"transform":[{"filter":"datum.k==='green'"}],"mark":{"type":"rule","color":"#00e000","strokeWidth":1.5},"encoding":{"x2":{"field":"x2"},"y2":{"field":"y2"}}},
{"data":{"name":"term"},"mark":{"type":"rect","fill":"#ffffff","stroke":"#ff0000","strokeWidth":1},"encoding":{"x2":{"field":"x2"},"y2":{"field":"y2"}}},
{"data":{"name":"flags"},"transform":[{"filter":"datum.st==='+'"}],"mark":{"type":"point","shape":"M0,-4.6L2,-4.6L0,-3.2Z","size":100,"filled":true,"color":"#ff0000","opacity":1,"strokeWidth":0}},
{"data":{"name":"flags"},"transform":[{"filter":"datum.st==='-'"}],"mark":{"type":"point","shape":"M0,3.4L0,4.8L-2,4.8Z","size":100,"filled":true,"color":"#ff0000","opacity":1,"strokeWidth":0}},
{"data":{"name":"dbox"},"mark":{"type":"rect","fill":"#ff0000","strokeWidth":0},"encoding":{"x2":{"field":"x2"},"y2":{"field":"y2"}}},
{"data":{"name":"flags"},"transform":[{"filter":"datum.st==='+'"}],"mark":{"type":"text","align":"left","baseline":"alphabetic","dx":10},
 "encoding":{"text":{"field":"t"},"y":{"field":"ly","type":"quantitative","scale":{"domain":[611.5,0.5],"nice":false,"zero":false},"axis":null}}},
{"data":{"name":"flags"},"transform":[{"filter":"datum.st==='-'"}],"mark":{"type":"text","align":"right","baseline":"alphabetic","dx":-12},
 "encoding":{"text":{"field":"t"},"y":{"field":"ly","type":"quantitative","scale":{"domain":[611.5,0.5],"nice":false,"zero":false},"axis":null}}},
{"data":{"name":"dbox"},"transform":[{"filter":"datum.st==='+'"}],"mark":{"type":"text","align":"right","baseline":"alphabetic","dx":-1},
 "encoding":{"text":{"field":"d"},"y":{"field":"ly","type":"quantitative","scale":{"domain":[611.5,0.5],"nice":false,"zero":false},"axis":null}}},
{"data":{"name":"dbox"},"transform":[{"filter":"datum.st==='-'"}],"mark":{"type":"text","align":"left","baseline":"alphabetic","dx":0},
 "encoding":{"text":{"field":"d"},"x":{"field":"x2","type":"quantitative","scale":{"domain":[2363797,2374214],"nice":false,"zero":false},"axis":null},"y":{"field":"ly","type":"quantitative","scale":{"domain":[611.5,0.5],"nice":false,"zero":false},"axis":null}}}
]
}
